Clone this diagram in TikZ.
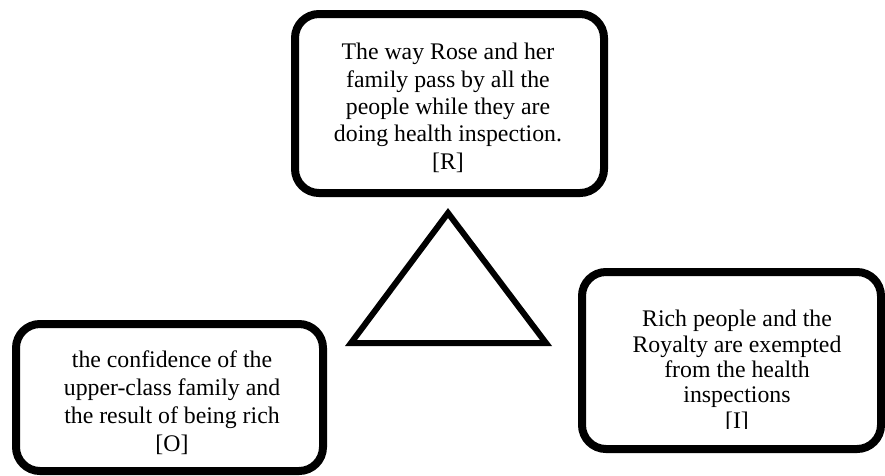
\documentclass[tikz,border=0pt]{standalone}
\usepackage{fontspec}
\setmainfont{Liberation Serif}
\begin{document}
\begin{tikzpicture}[x=1pt,y=-1pt,
  card/.style={draw=black, line width=8pt, rounded corners=24pt, fill=white},
  cardtext/.style={align=center, inner sep=0pt, anchor=base},
  tri/.style={draw=black, line width=6pt, line join=miter}]
\useasboundingbox (0,0) rectangle (885,475);

% the three rounded cards
\node[card, minimum width=309pt, minimum height=179pt] (rcard) at (449.5,103.5) {};
\node[card, minimum width=307pt, minimum height=147pt] (ocard) at (169.5,397.5) {};
\node[card, minimum width=299pt, minimum height=177pt] (icard) at (731.5,360.5) {};

% triangle in the middle
\coordinate (apex) at (448,213);
\coordinate (baseR) at (546,343);
\coordinate (baseL) at (351,343);
\draw[tri] (apex) -- (baseR) -- (baseL) -- cycle;

% card texts (anchored at the baseline of their last line)
\node[cardtext, font=\fontsize{23.8}{27.3}\selectfont] (rtext) at (448,169)
  {The way Rose and her\\family pass by all the\\people while they are\\doing health inspection.\\{[R]}};
\node[cardtext, font=\fontsize{23.8}{27.7}\selectfont] (otext) at (172,451)
  {the confidence of the\\upper-class family and\\the result of being rich\\{[O]}};
\begin{scope}
  % the last line of this card is cut at its baseline
  \clip (560,250) rectangle (885,428);
  \node[cardtext, font=\fontsize{23.8}{25.3}\selectfont] (itext) at (737,428)
    {Rich people and the\\Royalty are exempted\\from the health\\inspections\\{[I]}};
\end{scope}
\end{tikzpicture}
\end{document}
